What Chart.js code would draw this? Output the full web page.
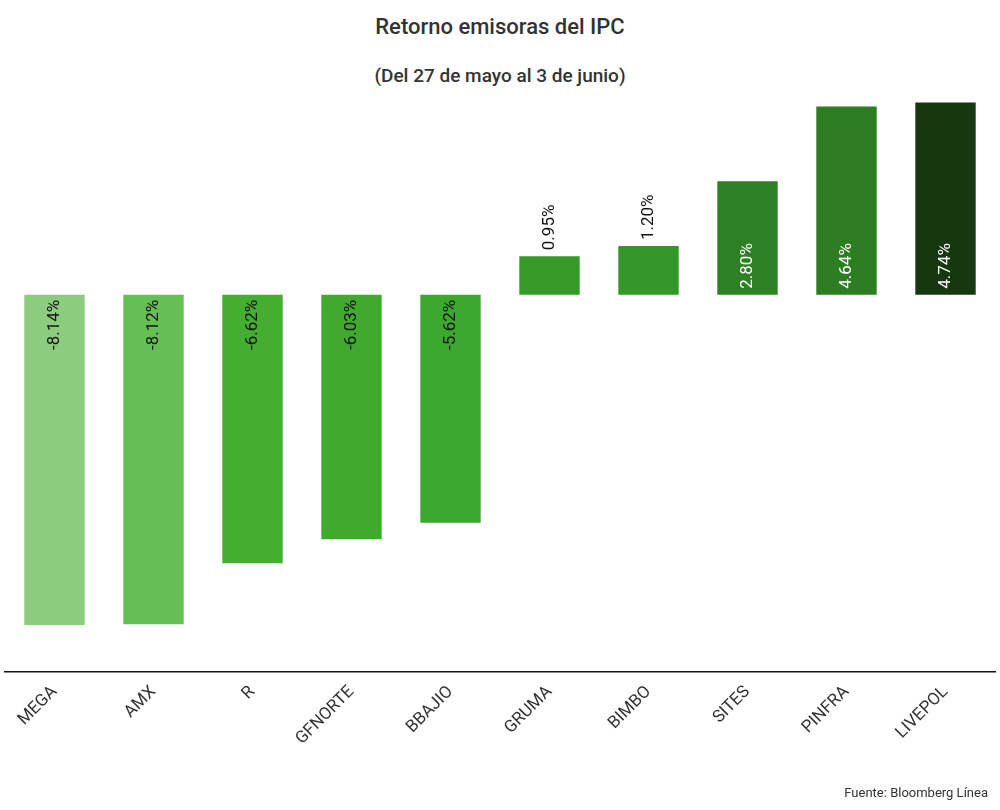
<!DOCTYPE html>
<html>
<head>
<meta charset="utf-8">
<script src="https://cdn.jsdelivr.net/npm/chart.js@4"></script>
<style>
  body { margin: 0; background: #fff; font-family: Roboto, sans-serif; }
  #wrap { position: relative; width: 1000px; height: 810px; }
  h1 { position: absolute; top: 14px; width: 100%; text-align: center; margin: 0; font-size: 22px; font-weight: 500; color: #333; }
  h2 { position: absolute; top: 64px; width: 100%; text-align: center; margin: 0; font-size: 19px; font-weight: 500; color: #333; }
  #src { position: absolute; right: 12px; bottom: 10px; font-size: 13px; color: #333; }
  #box { position: absolute; left: 0; top: 0; width: 1000px; height: 810px; }
</style>
</head>
<body>
<div id="wrap">
  <h1>Retorno emisoras del IPC</h1>
  <h2>(Del 27 de mayo al 3 de junio)</h2>
  <div id="box"><canvas id="chart"></canvas></div>
  <div id="src">Fuente: Bloomberg Línea</div>
</div>
<script>
// tickers and weekly returns (%)
const tickers = ['MEGA', 'AMX', 'R', 'GFNORTE', 'BBAJIO', 'GRUMA', 'BIMBO', 'SITES', 'PINFRA', 'LIVEPOL'];
const returns = [-8.14, -8.12, -6.62, -6.03, -5.62, 0.95, 1.20, 2.80, 4.64, 4.74];
const barColors = ['#8ccc7e', '#66bf55', '#44ae31', '#40aa2f', '#3ca82d', '#359a28', '#33972a', '#2e8024', '#2d7d23', '#163710'];

// draws the rotated value labels on the bars
const valueLabels = {
    id: 'valueLabels',
    afterDatasetsDraw(chart) {
        const ctx = chart.ctx;
        const meta = chart.getDatasetMeta(0);
        ctx.save();
        ctx.font = '17px Roboto, sans-serif';
        ctx.textBaseline = 'middle';
        meta.data.forEach((bar, i) => {
            const v = returns[i];
            const text = v.toFixed(2) + '%';
            ctx.save();
            if (v < 0) {
                ctx.translate(bar.x, bar.base + 5);
                ctx.rotate(-Math.PI / 2);
                ctx.textAlign = 'right';
                ctx.fillStyle = '#111';
            } else if (v < 2) {
                ctx.translate(bar.x, bar.y - 6);
                ctx.rotate(-Math.PI / 2);
                ctx.textAlign = 'left';
                ctx.fillStyle = '#111';
            } else {
                ctx.translate(bar.x, bar.base - 6);
                ctx.rotate(-Math.PI / 2);
                ctx.textAlign = 'left';
                ctx.fillStyle = '#fff';
            }
            ctx.fillText(text, 0, 0);
            ctx.restore();
        });
        ctx.restore();
    }
};

new Chart(document.getElementById('chart'), {
    type: 'bar',
    data: {
        labels: tickers,
        datasets: [{
            data: returns,
            backgroundColor: barColors,
            barPercentage: 0.61,
            categoryPercentage: 1
        }]
    },
    options: {
        responsive: true,
        maintainAspectRatio: false,
        animation: false,
        layout: { padding: { top: 100, left: 5, right: 5, bottom: 0 } },
        plugins: { legend: { display: false }, tooltip: { enabled: false } },
        scales: {
            x: {
                grid: { display: false, drawTicks: false },
                border: { color: '#111', width: 1.5 },
                ticks: {
                    color: '#333',
                    font: { size: 17, family: 'Roboto, sans-serif' },
                    maxRotation: 45, minRotation: 45,
                    padding: 10
                },
                afterFit(scale) { scale.height = 138; }
            },
            y: {
                display: false,
                min: -9.3,
                max: 4.8
            }
        }
    },
    plugins: [valueLabels]
});
</script>
</body>
</html>
